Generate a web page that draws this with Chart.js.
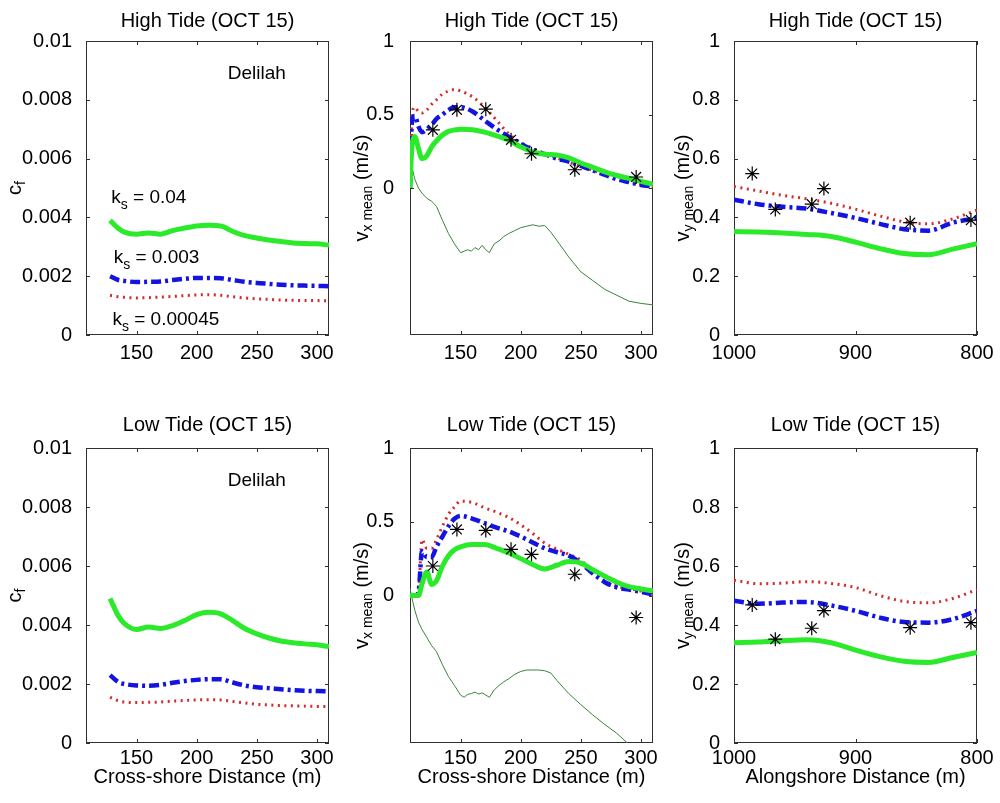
<!DOCTYPE html>
<html>
<head>
<meta charset="utf-8">
<title>Delilah OCT 15</title>
<script src="https://cdn.jsdelivr.net/npm/chart.js@4.4.1/dist/chart.umd.min.js"></script>
<style>
    html, body { margin: 0; padding: 0; background: #fff; }
    body { width: 1000px; height: 803px; position: relative; overflow: hidden; }
    canvas { position: absolute; }
</style>
</head>
<body>
<canvas id="cf-high"></canvas>
<canvas id="vx-high"></canvas>
<canvas id="vy-high"></canvas>
<canvas id="cf-low"></canvas>
<canvas id="vx-low"></canvas>
<canvas id="vy-low"></canvas>
<script>
"use strict";

// ---- donnees ----

// cross-shore grid for the friction coefficient curves
const CROSS_X = [128, 135, 140, 150, 160, 170, 180, 190, 200, 210, 220, 230, 240, 250, 260, 270, 280, 290, 300, 310];

const HIGH_CF_K004 = [0.0039, 0.00362, 0.0035, 0.00343, 0.00347, 0.00343, 0.00355, 0.00364, 0.00371, 0.00373, 0.00371, 0.00352, 0.00338, 0.0033, 0.00323, 0.00318, 0.00313, 0.00311, 0.0031, 0.00306];
const HIGH_CF_K0003 = [0.002, 0.00187, 0.00184, 0.0018, 0.00181, 0.00182, 0.00187, 0.00191, 0.00194, 0.00194, 0.00193, 0.00187, 0.00181, 0.00177, 0.00174, 0.00171, 0.00169, 0.00168, 0.00167, 0.00166];
const HIGH_CF_K000045 = [0.00135, 0.0013, 0.00128, 0.00126, 0.00127, 0.00129, 0.00131, 0.00134, 0.00136, 0.00137, 0.00135, 0.0013, 0.00126, 0.00123, 0.00121, 0.00119, 0.00118, 0.00117, 0.00117, 0.00116];

const LOW_CF_K004 = [0.0049, 0.0043, 0.00405, 0.00385, 0.00393, 0.00388, 0.00398, 0.00415, 0.00435, 0.00443, 0.00438, 0.00415, 0.00388, 0.0037, 0.00356, 0.00346, 0.0034, 0.00336, 0.00333, 0.00327];
const LOW_CF_K0003 = [0.0023, 0.00206, 0.002, 0.00195, 0.00194, 0.00197, 0.00204, 0.0021, 0.00214, 0.00216, 0.00216, 0.00205, 0.00195, 0.00189, 0.00186, 0.00182, 0.00179, 0.00177, 0.00176, 0.00175];
const LOW_CF_K000045 = [0.00155, 0.00143, 0.00139, 0.00137, 0.00138, 0.00139, 0.00142, 0.00144, 0.00146, 0.00147, 0.00146, 0.00141, 0.00136, 0.00131, 0.00129, 0.00127, 0.00126, 0.00125, 0.00124, 0.00124];

// cross-shore grid for the mean cross-shore current
const VX_X = [108, 109, 110, 112, 115, 118, 122, 126, 130, 135, 140, 145, 150, 160, 170, 180, 190, 200, 210, 220, 230, 240, 250, 260, 270, 280, 290, 300, 310];

const HIGH_VX_K004 = [0, 0.2, 0.31, 0.35, 0.27, 0.2, 0.22, 0.28, 0.32, 0.36, 0.385, 0.395, 0.4, 0.396, 0.38, 0.355, 0.325, 0.28, 0.245, 0.23, 0.225, 0.205, 0.17, 0.14, 0.11, 0.085, 0.065, 0.045, 0.025];
const HIGH_VX_K0003 = [0, 0.35, 0.47, 0.49, 0.42, 0.38, 0.4, 0.43, 0.47, 0.5, 0.53, 0.55, 0.55, 0.52, 0.46, 0.4, 0.35, 0.3, 0.26, 0.23, 0.2, 0.18, 0.15, 0.12, 0.09, 0.06, 0.04, 0.02, 0.01];
const HIGH_VX_K000045 = [0, 0.3, 0.52, 0.55, 0.52, 0.51, 0.53, 0.57, 0.6, 0.64, 0.66, 0.67, 0.66, 0.62, 0.55, 0.46, 0.37, 0.31, 0.27, 0.235, 0.205, 0.175, 0.145, 0.12, 0.095, 0.07, 0.045, 0.025, 0.01];

const LOW_VX_K004 = [0, 0, 0, 0, 0, 0.08, 0.16, 0.075, 0.1, 0.2, 0.27, 0.31, 0.33, 0.345, 0.345, 0.32, 0.29, 0.25, 0.21, 0.18, 0.205, 0.23, 0.22, 0.175, 0.13, 0.09, 0.06, 0.045, 0.03];
const LOW_VX_K0003 = [0, 0, 0, 0, 0.02, 0.3, 0.26, 0.26, 0.33, 0.4, 0.47, 0.52, 0.54, 0.52, 0.49, 0.46, 0.435, 0.4, 0.36, 0.32, 0.295, 0.27, 0.22, 0.15, 0.09, 0.055, 0.04, 0.025, 0.008];
const LOW_VX_K000045 = [0, 0, 0, 0, 0.02, 0.38, 0.32, 0.32, 0.38, 0.47, 0.55, 0.6, 0.64, 0.63, 0.595, 0.565, 0.53, 0.48, 0.42, 0.355, 0.315, 0.28, 0.24, 0.16, 0.1, 0.062, 0.045, 0.03, 0];

// depth profile (scaled), thin line under the currents
const BATHY_X = [108, 110, 112, 115, 118, 122, 126, 130, 135, 140, 145, 150, 153, 156, 159, 162, 165, 168, 171, 174, 178, 182, 186, 190, 195, 200, 205, 210, 215, 220, 225, 230, 240, 250, 260, 270, 280, 290, 300, 310];
const HIGH_BATHY = [0.24, 0.13, 0.06, 0, -0.035, -0.07, -0.09, -0.125, -0.22, -0.31, -0.38, -0.44, -0.43, -0.42, -0.43, -0.405, -0.42, -0.39, -0.42, -0.44, -0.38, -0.36, -0.33, -0.31, -0.29, -0.27, -0.26, -0.25, -0.26, -0.255, -0.3, -0.355, -0.47, -0.57, -0.63, -0.69, -0.73, -0.77, -0.785, -0.795];
const LOW_BATHY = [0.05, -0.03, -0.1, -0.18, -0.23, -0.285, -0.34, -0.38, -0.47, -0.55, -0.61, -0.675, -0.69, -0.67, -0.665, -0.655, -0.668, -0.66, -0.675, -0.69, -0.64, -0.61, -0.585, -0.565, -0.535, -0.515, -0.505, -0.505, -0.505, -0.51, -0.525, -0.575, -0.665, -0.74, -0.81, -0.875, -0.935, -1.01, -1.08, -1.13];

// measured cross-shore currents (stars)
const CROSS_OBS_X = [127, 147, 171, 192, 209, 245, 296];
const HIGH_VX_OBS = [0.396, 0.532, 0.536, 0.328, 0.233, 0.124, 0.075];
const LOW_VX_OBS = [0.2, 0.448, 0.441, 0.313, 0.279, 0.144, -0.149];

// alongshore grid for the mean alongshore current
const ALONG_X = [1000, 980, 960, 940, 920, 900, 880, 860, 840, 820, 800];

const HIGH_VY_K004 = [0.352, 0.35, 0.347, 0.342, 0.335, 0.316, 0.294, 0.277, 0.273, 0.292, 0.311];
const HIGH_VY_K0003 = [0.46, 0.445, 0.436, 0.43, 0.415, 0.398, 0.378, 0.36, 0.355, 0.382, 0.398];
const HIGH_VY_K000045 = [0.505, 0.49, 0.475, 0.463, 0.448, 0.428, 0.405, 0.385, 0.378, 0.395, 0.425];

const LOW_VY_K004 = [0.34, 0.342, 0.347, 0.35, 0.34, 0.315, 0.293, 0.277, 0.273, 0.29, 0.307];
const LOW_VY_K0003 = [0.482, 0.472, 0.476, 0.478, 0.466, 0.448, 0.425, 0.41, 0.408, 0.42, 0.448];
const LOW_VY_K000045 = [0.552, 0.54, 0.542, 0.547, 0.541, 0.527, 0.5, 0.48, 0.475, 0.49, 0.52];

const ALONG_OBS_X = [985, 966, 936, 926, 855, 805];
const HIGH_VY_OBS = [0.549, 0.427, 0.445, 0.498, 0.382, 0.391];
const LOW_VY_OBS = [0.468, 0.352, 0.389, 0.449, 0.391, 0.408];

// ticks
const CROSS_TICKS = [150, 200, 250, 300];
const ALONG_TICKS = [1000, 900, 800];
const CF_TICKS = [0, 0.002, 0.004, 0.006, 0.008, 0.01];
const VX_TICKS = [0, 0.5, 1];
const VY_TICKS = [0, 0.2, 0.4, 0.6, 0.8, 1];

// texts ([texte, indice?])
const TITLE_HIGH = 'High Tide (OCT 15)';
const TITLE_LOW = 'Low Tide (OCT 15)';
const CROSS_TITLE = 'Cross-shore Distance (m)';
const ALONG_TITLE = 'Alongshore Distance (m)';
const CF_LABEL = [['c', 0], ['f', 1]];
const VX_LABEL = [['v', 0], ['x mean', 1], [' (m/s)', 0]];
const VY_LABEL = [['v', 0], ['y mean', 1], [' (m/s)', 0]];
const SITE_NAME = [['Delilah', 0]];
const KS_BIG = [['k', 0], ['s', 1], [' = 0.04', 0]];
const KS_MID = [['k', 0], ['s', 1], [' = 0.003', 0]];
const KS_SMALL = [['k', 0], ['s', 1], [' = 0.00045', 0]];

// ---- mise en page ----
const FONT = '"Liberation Sans", Arial, Helvetica, sans-serif';
const COLS = [86, 410, 734];
const PLOT_W = 243;
const ROWS = [
    {top: 41, bottom: 335, titleTop: 8, xAxisH: 32, xTickPad: -2},
    {top: 448, bottom: 743, titleTop: 5, xAxisH: 60, xTickPad: -5}
];
const Y_AXIS_W = 80;
const TITLE_H = 40;
const RIGHT_PAD = 20;

Chart.defaults.font.family = FONT;
Chart.defaults.font.size = 20;
Chart.defaults.color = '#000';

const GREEN = {borderColor: '#2aea2a', borderWidth: 5, cubicInterpolationMode: 'monotone'};
const BLUE = {borderColor: '#1414e2', borderWidth: 4.5, borderDash: [10, 4, 3, 4], cubicInterpolationMode: 'monotone'};
const RED = {borderColor: '#d42a2a', borderWidth: 3, borderDash: [2, 4.5], cubicInterpolationMode: 'monotone'};
const BATHY = {borderColor: '#3c823c', borderWidth: 1, tension: 0};
const STARS = {showLine: false, pointStyle: 'star', pointRadius: 7, borderColor: '#000', backgroundColor: '#000', borderWidth: 1.2};

function pts(xs, ys) {
    return xs.map((x, i) => ({x: x, y: ys[i]}));
}

function line(xs, ys, style) {
    return Object.assign({data: pts(xs, ys), pointRadius: 0, fill: false}, style);
}

function stars(xs, ys) {
    return Object.assign({data: pts(xs, ys)}, STARS);
}

/**
 * Ecrit un texte avec indices (parts = [[texte, indice?], ...])
 */
function drawRich(ctx, parts, x, y, size, align) {
    const subSize = Math.round(size * 0.72);
    let w = 0;
    parts.forEach(p => {
        ctx.font = (p[1] ? subSize : size) + 'px ' + FONT;
        w += ctx.measureText(p[0]).width;
    });
    let cx = align === 'center' ? x - w / 2 : x;
    parts.forEach(p => {
        ctx.font = (p[1] ? subSize : size) + 'px ' + FONT;
        ctx.fillText(p[0], cx, y + (p[1] ? size * 0.32 : 0));
        cx += ctx.measureText(p[0]).width;
    });
}

/**
 * Boite, graduations interieures, titre de l'axe y et annotations facon MATLAB
 */
function matlabAxes(p) {
    return {
        id: 'matlabAxes',
        beforeDatasetsDraw(chart) {
            const {ctx, chartArea: {left, top, right, bottom}, scales: {x, y}} = chart;
            ctx.save();
            ctx.strokeStyle = '#303030';
            ctx.lineWidth = 1;
            ctx.strokeRect(left + 0.5, top + 0.5, right - left - 1, bottom - top - 1);
            const tl = 4;
            ctx.beginPath();
            x.ticks.forEach(t => {
                const px = Math.round(x.getPixelForValue(t.value)) + 0.5;
                ctx.moveTo(px, bottom); ctx.lineTo(px, bottom - tl);
                ctx.moveTo(px, top); ctx.lineTo(px, top + tl);
            });
            y.ticks.forEach(t => {
                const py = Math.round(y.getPixelForValue(t.value)) + 0.5;
                ctx.moveTo(left, py); ctx.lineTo(left + tl, py);
                ctx.moveTo(right, py); ctx.lineTo(right - tl, py);
            });
            ctx.stroke();
            ctx.restore();
        },
        afterDraw(chart) {
            const {ctx, chartArea: {left, top, bottom}, scales: {x, y}} = chart;
            ctx.save();
            ctx.fillStyle = '#000';
            ctx.textBaseline = 'middle';
            ctx.translate(left - p.yLabelOffset, (top + bottom) / 2);
            ctx.rotate(-Math.PI / 2);
            drawRich(ctx, p.yLabel, 0, 0, 20, 'center');
            ctx.restore();

            (p.notes || []).forEach(n => {
                ctx.save();
                ctx.fillStyle = '#000';
                ctx.textBaseline = n.baseline;
                drawRich(ctx, n.parts, x.getPixelForValue(n.x), y.getPixelForValue(n.y), 19, n.align);
                ctx.restore();
            });
        }
    };
}

function makePanel(p) {
    const row = ROWS[p.row];
    const w = Y_AXIS_W + PLOT_W + RIGHT_PAD;
    const h = TITLE_H + (row.bottom - row.top) + row.xAxisH;
    const canvas = document.getElementById(p.id);
    canvas.width = w;
    canvas.height = h;
    canvas.style.left = (COLS[p.col] - Y_AXIS_W) + 'px';
    canvas.style.top = (row.top - TITLE_H) + 'px';

    const config = {
        type: 'line',
        data: {datasets: p.datasets},
        options: {
            responsive: false,
            animation: false,
            devicePixelRatio: 1,
            layout: {padding: {left: 0, right: RIGHT_PAD, top: 0, bottom: 0}},
            plugins: {
                legend: {display: false},
                tooltip: {enabled: false},
                title: {
                    display: true,
                    fullSize: false, // centre sur la zone du graphe
                    text: p.title,
                    color: '#000',
                    font: {size: 20, weight: 'normal'},
                    padding: {top: row.titleTop, bottom: TITLE_H - 24 - row.titleTop}
                }
            },
            scales: {
                x: {
                    type: 'linear',
                    min: p.xMin,
                    max: p.xMax,
                    reverse: !!p.xReverse,
                    grid: {display: false},
                    border: {display: false},
                    ticks: {
                        padding: row.xTickPad,
                        maxRotation: 0,
                        minRotation: 0,
                        autoSkip: false,
                        callback: value => String(value)
                    },
                    afterBuildTicks: scale => {
                        scale.ticks = p.xTicks.map(v => ({value: v}));
                    },
                    afterFit: scale => {
                        scale.height = row.xAxisH;
                    },
                    title: {
                        display: !!p.xTitle,
                        text: p.xTitle || '',
                        font: {size: 20},
                        padding: {top: 0, bottom: 14}
                    }
                },
                y: {
                    type: 'linear',
                    min: p.yMin,
                    max: p.yMax,
                    grid: {display: false},
                    border: {display: false},
                    ticks: {
                        padding: p.yTickPad,
                        callback: value => String(value)
                    },
                    afterBuildTicks: scale => {
                        scale.ticks = p.yTicks.map(v => ({value: v}));
                    },
                    afterFit: scale => {
                        scale.width = Y_AXIS_W;
                    }
                }
            }
        },
        plugins: [matlabAxes(p)]
    };
    return new Chart(canvas, config);
}

const cfPanel = {xMin: 108, xMax: 310, xTicks: CROSS_TICKS, yMin: 0, yMax: 0.01, yTicks: CF_TICKS, yTickPad: 6, yLabel: CF_LABEL, yLabelOffset: 71};
const vxPanel = {xMin: 108, xMax: 310, xTicks: CROSS_TICKS, yMin: -1, yMax: 1, yTicks: VX_TICKS, yTickPad: 8, yLabel: VX_LABEL, yLabelOffset: 48};
const vyPanel = {xMin: 800, xMax: 1000, xReverse: true, xTicks: ALONG_TICKS, yMin: 0, yMax: 1, yTicks: VY_TICKS, yTickPad: 6, yLabel: VY_LABEL, yLabelOffset: 51};

makePanel(Object.assign({}, cfPanel, {
    id: 'cf-high', col: 0, row: 0, title: TITLE_HIGH,
    datasets: [
        line(CROSS_X, HIGH_CF_K004, GREEN),
        line(CROSS_X, HIGH_CF_K0003, BLUE),
        line(CROSS_X, HIGH_CF_K000045, RED)
    ],
    notes: [
        {x: 250, y: 0.0089, parts: SITE_NAME, align: 'center', baseline: 'middle'},
        {x: 129, y: 0.0045, parts: KS_BIG, align: 'left', baseline: 'alphabetic'},
        {x: 131, y: 0.00244, parts: KS_MID, align: 'left', baseline: 'alphabetic'},
        {x: 130, y: 0.00034, parts: KS_SMALL, align: 'left', baseline: 'alphabetic'}
    ]
}));

makePanel(Object.assign({}, vxPanel, {
    id: 'vx-high', col: 1, row: 0, title: TITLE_HIGH,
    datasets: [
        stars(CROSS_OBS_X, HIGH_VX_OBS),
        line(VX_X, HIGH_VX_K004, GREEN),
        line(VX_X, HIGH_VX_K0003, BLUE),
        line(VX_X, HIGH_VX_K000045, RED),
        line(BATHY_X, HIGH_BATHY, BATHY)
    ]
}));

makePanel(Object.assign({}, vyPanel, {
    id: 'vy-high', col: 2, row: 0, title: TITLE_HIGH,
    datasets: [
        stars(ALONG_OBS_X, HIGH_VY_OBS),
        line(ALONG_X, HIGH_VY_K004, GREEN),
        line(ALONG_X, HIGH_VY_K0003, BLUE),
        line(ALONG_X, HIGH_VY_K000045, RED)
    ]
}));

makePanel(Object.assign({}, cfPanel, {
    id: 'cf-low', col: 0, row: 1, title: TITLE_LOW, xTitle: CROSS_TITLE,
    datasets: [
        line(CROSS_X, LOW_CF_K004, GREEN),
        line(CROSS_X, LOW_CF_K0003, BLUE),
        line(CROSS_X, LOW_CF_K000045, RED)
    ],
    notes: [
        {x: 250, y: 0.0089, parts: SITE_NAME, align: 'center', baseline: 'middle'}
    ]
}));

makePanel(Object.assign({}, vxPanel, {
    id: 'vx-low', col: 1, row: 1, title: TITLE_LOW, xTitle: CROSS_TITLE,
    datasets: [
        stars(CROSS_OBS_X, LOW_VX_OBS),
        line(VX_X, LOW_VX_K004, GREEN),
        line(VX_X, LOW_VX_K0003, BLUE),
        line(VX_X, LOW_VX_K000045, RED),
        line(BATHY_X, LOW_BATHY, BATHY)
    ]
}));

makePanel(Object.assign({}, vyPanel, {
    id: 'vy-low', col: 2, row: 1, title: TITLE_LOW, xTitle: ALONG_TITLE,
    datasets: [
        stars(ALONG_OBS_X, LOW_VY_OBS),
        line(ALONG_X, LOW_VY_K004, GREEN),
        line(ALONG_X, LOW_VY_K0003, BLUE),
        line(ALONG_X, LOW_VY_K000045, RED)
    ]
}));
</script>
</body>
</html>
